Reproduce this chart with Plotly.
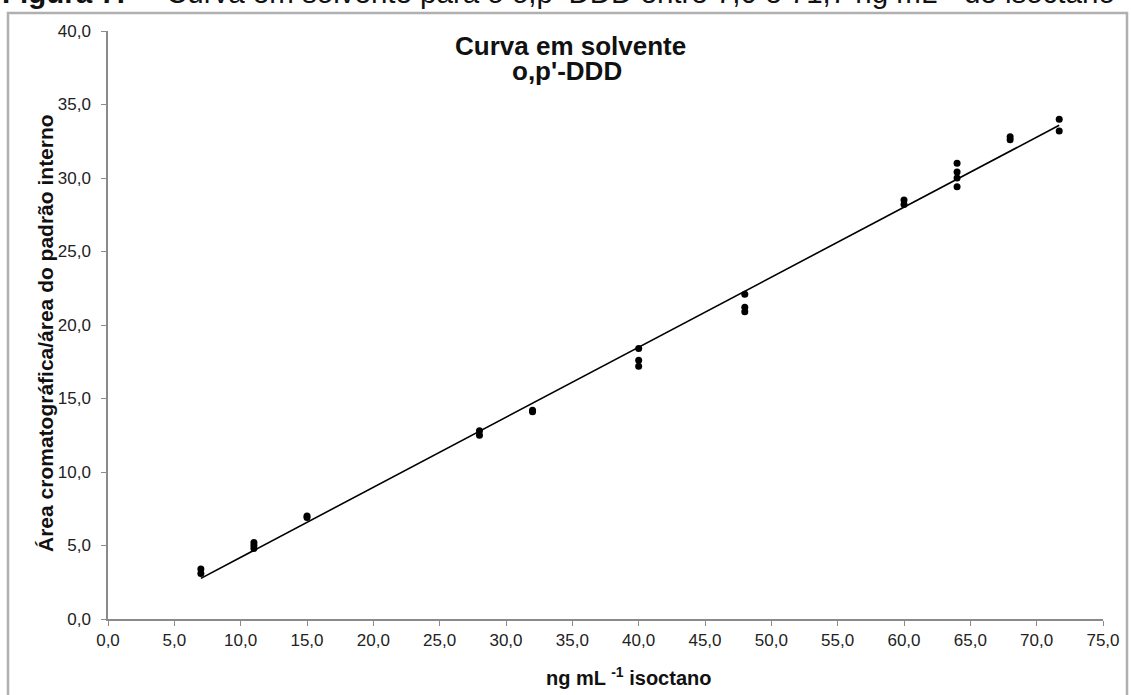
import numpy as np
import plotly.graph_objects as go

# Calibration data: concentration (ng/mL in isooctane) vs. area ratio
conc = [7.0, 7.0, 11.0, 11.0, 11.0, 15.0, 15.0, 28.0, 28.0, 32.0, 32.0,
        40.0, 40.0, 40.0, 48.0, 48.0, 48.0, 60.0, 60.0,
        64.0, 64.0, 64.0, 64.0, 68.0, 68.0, 71.7, 71.7]
area_ratio = [3.4, 3.1, 5.2, 5.0, 4.8, 7.0, 6.9, 12.8, 12.5, 14.2, 14.1,
              18.4, 17.6, 17.2, 22.1, 21.2, 20.9, 28.5, 28.2,
              31.0, 30.4, 30.0, 29.4, 32.8, 32.6, 34.0, 33.2]

x_ticks = [0, 5, 10, 15, 20, 25, 30, 35, 40, 45, 50, 55, 60, 65, 70, 75]
y_ticks = [0, 5, 10, 15, 20, 25, 30, 35, 40]

W, H = 1131, 695
L, R, T, B = 108, 28, 31, 76
PW, PH = W - L - R, H - T - B


def px(xp):
    return (xp - L) / PW


def py(yp):
    return (H - B - yp) / PH


# least-squares calibration line
slope, intercept = np.polyfit(conc, area_ratio, 1)
x_fit = np.array([min(conc), max(conc)])
y_fit = slope * x_fit + intercept

FONT = "Liberation Sans, Arial, sans-serif"

fig = go.Figure()
fig.add_trace(go.Scatter(x=x_fit, y=y_fit, mode="lines",
                         line=dict(color="black", width=1.6),
                         hoverinfo="skip", showlegend=False))
fig.add_trace(go.Scatter(x=conc, y=area_ratio, mode="markers",
                         marker=dict(color="black", size=7),
                         showlegend=False))

axis_common = dict(showgrid=False, zeroline=False, showline=True,
                   linecolor="#8a8a8a", linewidth=1.5,
                   ticks="outside", ticklen=5, tickcolor="#8a8a8a",
                   tickwidth=1.2,
                   tickfont=dict(family=FONT, size=17, color="#222"))

fig.update_xaxes(range=[0, 75], tickvals=x_ticks,
                 ticktext=[f"{v:.1f}".replace(".", ",") for v in x_ticks],
                 ticklabelstandoff=0, **axis_common)
fig.update_yaxes(range=[0, 40], tickvals=y_ticks,
                 ticktext=[f"{v:.1f}".replace(".", ",") for v in y_ticks],
                 ticklabelstandoff=7, **axis_common)

annotations = [
    dict(text="<b>Curva em solvente</b>", x=px(570), y=py(46),
         font=dict(family=FONT, size=26, color="#111")),
    dict(text="<b>o,p'-DDD</b>", x=px(567), y=py(71),
         font=dict(family=FONT, size=26, color="#111")),
    dict(text="<b>Área cromatográfica/área do padrão interno</b>",
         x=px(45), y=py(333), textangle=-90,
         font=dict(family=FONT, size=21, color="#111")),
    dict(text="<b>ng mL <sup>-1</sup> isoctano</b>", x=px(628), y=py(676),
         font=dict(family=FONT, size=20, color="#111")),
    dict(text="<b>Figura 7.</b>  – Curva em solvente para o o,p'-DDD entre "
              "7,0 e 71,7 ng mL<sup>-1</sup> de isoctano",
         x=px(0), y=py(-10), xanchor="left",
         font=dict(family=FONT, size=29.5, color="#111")),
]
for a in annotations:
    a.setdefault("xanchor", "center")
    a.setdefault("yanchor", "middle")
    a.update(xref="paper", yref="paper", showarrow=False)

fig.update_layout(
    width=W, height=H,
    margin=dict(l=L, r=R, t=T, b=B, autoexpand=False),
    paper_bgcolor="white", plot_bgcolor="white",
    annotations=annotations,
    shapes=[dict(type="rect", xref="paper", yref="paper",
                 x0=px(8), x1=px(1127), y0=py(710), y1=py(13),
                 line=dict(color="#b0b0b0", width=2.5), layer="below")],
)

fig.write_html("out.html", config={"displayModeBar": False})
